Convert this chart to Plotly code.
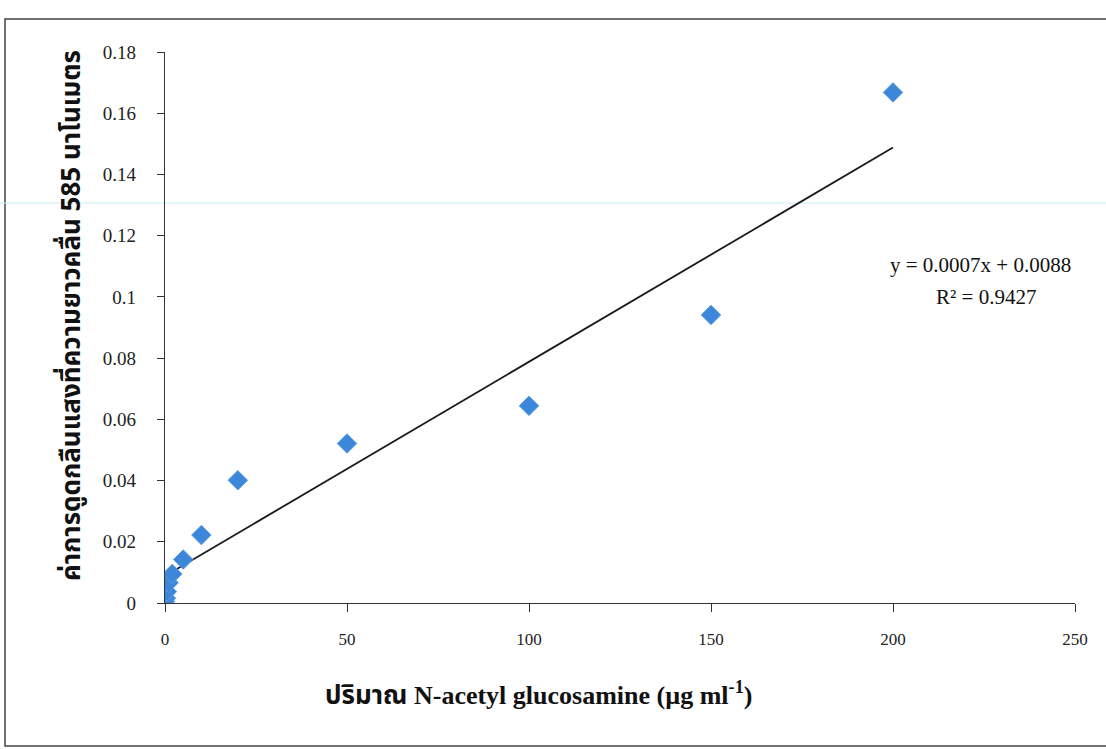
import plotly.graph_objects as go

# data
conc = [0, 0.25, 0.5, 1, 2, 5, 10, 20, 50, 100, 150, 200]
absorb = [0.0005, 0.0016, 0.0037, 0.0066, 0.0095, 0.0142, 0.0222, 0.0401, 0.0521, 0.0644, 0.0941, 0.1668]
trend_x = [0, 200]
trend_y = [0.0088, 0.1488]
x_ticks = [0, 50, 100, 150, 200, 250]
y_ticks = [0, 0.02, 0.04, 0.06, 0.08, 0.1, 0.12, 0.14, 0.16, 0.18]
y_tick_text = ["0", "0.02", "0.04", "0.06", "0.08", "0.1", "0.12", "0.14", "0.16", "0.18"]

W, H = 1106, 749
L, R, T, B = 165, 31, 52, 146
pw, ph = W - L - R, H - T - B

def px_x(p):
    return (p - L) / pw

def px_y(p):
    return (H - B - p) / ph

serif = "Liberation Serif, Times New Roman, serif"

fig = go.Figure()
fig.add_trace(go.Scatter(x=trend_x, y=trend_y, mode="lines",
                         line=dict(color="#1a1a1a", width=1.8), showlegend=False))
fig.add_trace(go.Scatter(x=conc, y=absorb, mode="markers",
                         marker=dict(symbol="diamond", size=15, color="#3c87da",
                                     line=dict(color="#5a9be3", width=1)),
                         showlegend=False))

fig.update_layout(
    width=W, height=H,
    margin=dict(l=L, r=R, t=T, b=B),
    paper_bgcolor="white", plot_bgcolor="white",
    font=dict(family=serif, size=17, color="#222"),
    xaxis=dict(range=[0, 250], tickvals=x_ticks, showgrid=False, zeroline=False,
               showline=True, linecolor="#333", linewidth=1.2,
               ticks="outside", ticklen=8, tickcolor="#333", ticklabelstandoff=12,
               tickfont=dict(family=serif, size=17, color="#222")),
    yaxis=dict(range=[0, 0.18], tickvals=y_ticks, ticktext=y_tick_text, showgrid=False,
               zeroline=False, showline=True, linecolor="#333", linewidth=1.2,
               ticks="outside", ticklen=7, tickcolor="#333", ticklabelstandoff=17,
               tickfont=dict(family=serif, size=19, color="#222")),
)

annotations = [
    dict(text="y = 0.0007x + 0.0088", x=px_x(980), y=px_y(265), xref="paper", yref="paper",
         showarrow=False, font=dict(family=serif, size=21, color="#111"),
         xanchor="center", yanchor="middle"),
    dict(text="R² = 0.9427", x=px_x(986), y=px_y(297), xref="paper", yref="paper",
         showarrow=False, font=dict(family=serif, size=21, color="#111"),
         xanchor="center", yanchor="middle"),
    dict(text="<b>ปริมาณ N-acetyl glucosamine (µg ml<sup>-1</sup>)</b>", x=px_x(538), y=px_y(693),
         xref="paper", yref="paper", showarrow=False,
         font=dict(family=serif + ", Noto Sans Thai, sans-serif", size=26, color="#111"),
         xanchor="center", yanchor="middle"),
    dict(text="<b>ค่าการดูดกลืนแสงที่ความยาวคลื่น 585 นาโนเมตร</b>", x=px_x(72), y=px_y(316),
         xref="paper", yref="paper", showarrow=False, textangle=-90,
         font=dict(family="Noto Sans Thai, Loma, Garuda, sans-serif", size=26, color="#111"),
         xanchor="center", yanchor="middle"),
]
fig.update_layout(annotations=annotations)

shapes = [
    dict(type="rect", xref="paper", yref="paper", x0=px_x(5), x1=px_x(1112), y0=px_y(746), y1=px_y(19),
         line=dict(color="#444", width=1.5), fillcolor="rgba(0,0,0,0)", layer="below"),
    dict(type="line", xref="paper", yref="paper", x0=px_x(0), x1=px_x(1106), y0=px_y(203), y1=px_y(203),
         line=dict(color="#c9eef4", width=1.2), layer="below"),
]
fig.update_layout(shapes=shapes)

fig.write_html("out.html")
